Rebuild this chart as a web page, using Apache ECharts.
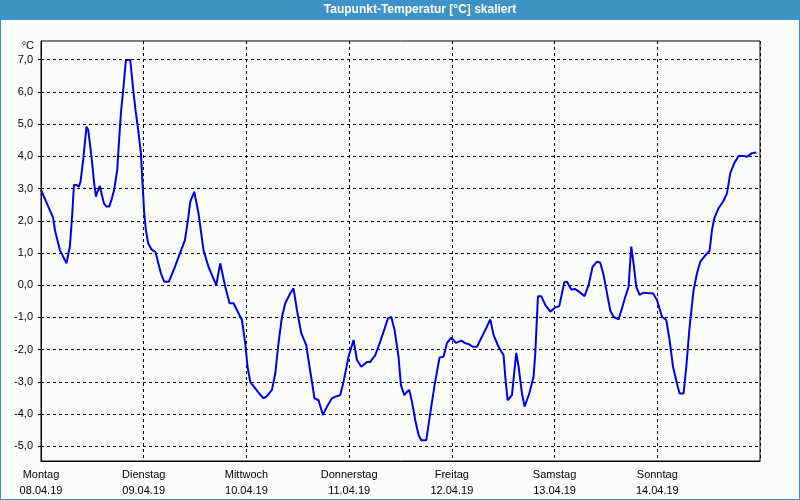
<!DOCTYPE html>
<html><head><meta charset="utf-8">
<script src="https://cdn.jsdelivr.net/npm/echarts@6/dist/echarts.min.js"></script>
<style>html,body{margin:0;padding:0;background:#fbfdfb}#c{width:800px;height:500px}</style>
</head><body><div id="c"></div>
<script>
// hours since Montag 08.04.19 00:00
const hours = [0,2.85,3.25,4.42,5.96,6.75,7.36,7.69,8.30,8.86,
9.23,9.86,10.63,11.03,11.80,12.43,12.83,13.20,13.76,14.14,
14.70,15.31,15.94,16.47,17.10,17.81,18.20,18.67,19.21,19.84,
20.85,21.55,22.08,22.71,23.35,23.72,24.12,24.51,25.05,25.82,
26.76,27.22,28.02,28.79,29.89,31.29,32.46,33.63,34.40,34.87,
35.80,36.81,37.97,39.14,39.94,40.94,41.88,43.05,44.05,44.99,
46.15,46.95,47.72,48.26,48.89,50.06,50.99,52.00,52.79,53.96,
54.73,55.50,56.30,57.07,58.24,59.01,59.80,60.81,61.97,62.75,
63.91,64.85,65.88,66.81,67.98,68.75,69.92,70.69,71.86,73.03,
73.82,74.83,76.16,76.93,78.10,79.27,80.43,81.07,81.84,82.61,
83.54,84.10,84.88,85.51,86.05,86.68,87.45,88.22,88.85,90.02,
90.95,91.96,93.13,94.06,94.85,95.86,96.96,98.20,99.13,100.07,
100.84,101.87,103.03,103.81,104.98,105.75,106.91,108.08,108.48,109.02,
110.04,111.05,111.59,112.38,112.99,114.09,115.09,115.49,115.89,116.12,
116.89,117.83,119.00,120.16,121.10,121.73,122.27,122.90,123.90,124.84,
126.01,127.01,127.94,128.88,129.91,130.68,131.45,132.25,133.02,133.79,
134.96,135.75,136.52,137.29,137.52,137.92,138.46,139.09,139.86,140.80,
141.97,142.99,143.93,145.10,146.10,146.87,147.67,148.60,149.21,150.15,
150.78,151.55,152.48,153.28,154.05,154.98,156.22,156.78,157.32,158.33,
159.35,160.29,161.06,161.99,163.00,164.17,164.96,166.13,167.14];
// dew point temperature in °C
const dewPoint = [2.96,2.09,1.71,1.09,0.68,1.20,2.33,3.11,3.11,3.06,
3.21,3.89,4.92,4.82,3.99,3.16,2.75,2.90,3.08,2.85,
2.54,2.44,2.44,2.65,2.96,3.58,4.41,5.34,6.06,6.99,
6.99,6.06,5.44,4.82,4.10,3.16,2.23,1.71,1.30,1.11,
1.03,0.78,0.37,0.11,0.11,0.57,0.99,1.40,2.08,2.59,
2.90,2.23,1.09,0.57,0.32,0.00,0.68,-0.05,-0.56,-0.56,
-0.87,-1.08,-1.80,-2.53,-3.00,-3.20,-3.36,-3.51,-3.44,-3.25,
-2.74,-1.80,-0.98,-0.56,-0.25,-0.10,-0.77,-1.49,-1.86,-2.53,
-3.51,-3.57,-4.03,-3.77,-3.51,-3.46,-3.41,-3.00,-2.22,-1.70,
-2.32,-2.53,-2.38,-2.38,-2.17,-1.75,-1.29,-1.03,-0.98,-1.39,
-2.22,-3.10,-3.41,-3.31,-3.25,-3.62,-4.19,-4.65,-4.81,-4.81,
-3.98,-3.10,-2.24,-2.22,-1.80,-1.63,-1.79,-1.72,-1.80,-1.83,
-1.91,-1.91,-1.60,-1.39,-1.06,-1.55,-1.91,-2.17,-2.84,-3.57,
-3.41,-2.10,-2.53,-3.36,-3.77,-3.36,-2.84,-2.12,-0.98,-0.34,
-0.34,-0.61,-0.82,-0.69,-0.65,-0.25,0.09,0.11,-0.13,-0.12,
-0.23,-0.34,0.00,0.57,0.73,0.70,0.32,-0.25,-0.79,-0.98,
-1.06,-0.72,-0.36,-0.05,0.42,1.20,0.68,-0.05,-0.30,-0.23,
-0.25,-0.25,-0.46,-0.98,-1.08,-1.70,-2.53,-3.05,-3.36,-3.36,
-2.53,-1.29,-0.15,0.37,0.73,0.89,1.07,1.71,2.08,2.39,
2.59,2.85,3.48,3.79,4.01,4.01,3.99,4.10,4.12];
const dayNames = ['Montag','Dienstag','Mittwoch','Donnerstag','Freitag','Samstag','Sonntag'];
const dayDates = ['08.04.19','09.04.19','10.04.19','11.04.19','12.04.19','13.04.19','14.04.19'];
const yTicks = [-5,-4,-3,-2,-1,0,1,2,3,4,5,6,7];
const titleText = 'Taupunkt-Temperatur [°C] skaliert';
const unitText = '°C';

const seriesData = hours.map((h, i) => [h, dewPoint[i]]);
const FONT = 'Liberation Sans';
const chart = echarts.init(document.getElementById('c'), null, {renderer: 'canvas'});
chart.setOption({
  backgroundColor: '#fbfdfb',
  animation: false,
  grid: {left: 41, right: 40, top: 41, bottom: 39, show: true, borderColor: '#000', borderWidth: 1, backgroundColor: 'transparent'},
  xAxis: {
    type: 'value', min: 0, max: 168, interval: 24,
    axisLine: {show: true, onZero: false, lineStyle: {color: '#000', width: 1}},
    axisTick: {show: false},
    splitLine: {show: true, lineStyle: {color: '#000', type: [3, 3], width: 1}},
    axisLabel: {
      color: '#000', fontFamily: FONT, fontSize: 11, lineHeight: 16, margin: 6,
      formatter: v => { const i = Math.round(v / 24); return i < 7 ? dayNames[i] + '\n' + dayDates[i] : ''; }
    }
  },
  yAxis: {
    type: 'value', min: -5.456, max: 7.58,
    axisLine: {show: true, onZero: false, lineStyle: {color: '#000', width: 1}},
    axisTick: {show: true, length: 5, customValues: yTicks, lineStyle: {color: '#000', type: [3, 3]}},
    splitLine: {show: true, lineStyle: {color: '#000', type: [3, 3], width: 1}},
    axisLabel: {
      color: '#000', fontFamily: FONT, fontSize: 11, margin: 8, customValues: yTicks,
      formatter: v => v.toFixed(1).replace('.', ',')
    }
  },
  series: [{
    type: 'line', data: seriesData, showSymbol: false, symbol: 'none',
    lineStyle: {color: '#0000e6', width: 2}, clip: true
  }],
  graphic: [
    {type: 'rect', shape: {x: 0, y: 0, width: 800, height: 20}, style: {fill: '#3d93c4'}, silent: true},
    {type: 'rect', shape: {x: 0.5, y: 0.5, width: 799, height: 499}, style: {fill: 'none', stroke: '#3d93c4', lineWidth: 1}, silent: true},
    {type: 'text', x: 420, y: 10, style: {text: titleText, fill: '#fff', font: 'bold 12px "Liberation Sans"', textAlign: 'center', textVerticalAlign: 'middle'}, silent: true},
    {type: 'text', x: 34, y: 46, style: {text: unitText, fill: '#000', font: '11px "Liberation Sans"', textAlign: 'right', textVerticalAlign: 'middle'}, silent: true}
  ]
});
</script>
</body></html>
